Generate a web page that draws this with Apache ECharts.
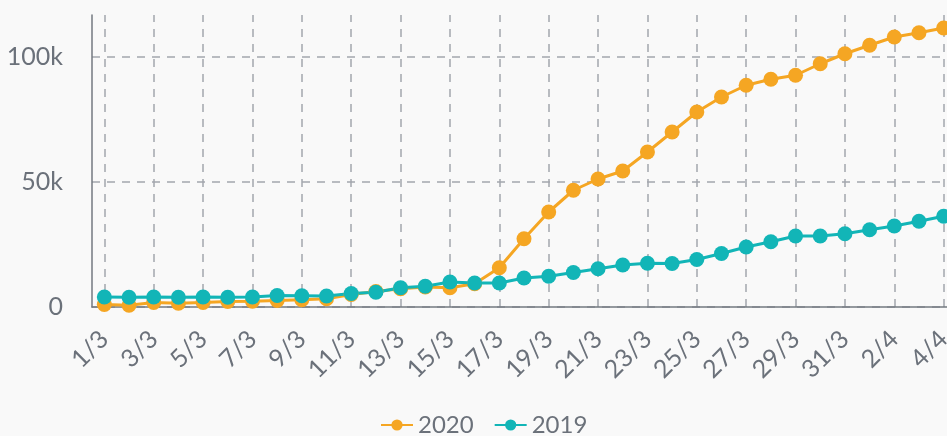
<!DOCTYPE html>
<html>
<head>
    <meta charset="utf-8">
    <title>2020 vs 2019</title>
    <script src="https://cdn.jsdelivr.net/npm/echarts@6/dist/echarts.min.js"></script>
    <style>
        html, body { margin: 0; padding: 0; background: #f9f9f9; }
    </style>
</head>
<body>
    <div id="myChart" style="width: 947px;height:436px;"></div>
    <script>
        // days from 1/3 to 4/4
        var days = ['1/3', '2/3', '3/3', '4/3', '5/3', '6/3', '7/3', '8/3', '9/3', '10/3',
            '11/3', '12/3', '13/3', '14/3', '15/3', '16/3', '17/3', '18/3', '19/3', '20/3',
            '21/3', '22/3', '23/3', '24/3', '25/3', '26/3', '27/3', '28/3', '29/3', '30/3',
            '31/3', '1/4', '2/4', '3/4', '4/4'];

        var values2020 = [1000, 700, 1800, 1500, 1800, 2200, 2300, 2600, 2900, 3300,
            5000, 6200, 7300, 8000, 7700, 9300, 15700, 27300, 38000, 46700,
            51200, 54400, 62000, 70000, 78000, 84000, 88700, 91100, 92700, 97300,
            101300, 104700, 108000, 109700, 111600];

        var values2019 = [4000, 3900, 4000, 3900, 4000, 3900, 4000, 4600, 4500, 4400,
            5400, 5900, 7700, 8300, 10000, 9600, 9600, 11600, 12300, 13800,
            15300, 16800, 17500, 17400, 19000, 21400, 24000, 26100, 28400, 28400,
            29300, 30900, 32400, 34300, 36300];

        var seriesNames = ['2020', '2019'];

        var myChart = echarts.init(document.getElementById('myChart'));

        var orange = '#f5a623';
        var teal = '#12b5b7';
        var labelColor = '#6b717a';
        var gridColor = '#a3a7ad';
        var gridDash = { color: gridColor, width: 1.5, type: [8, 7] };

        // vertical grid lines only on labelled days (every other day)
        var labelledDays = days.filter(function (d, i) { return i % 2 === 0; });

        var option = {
            backgroundColor: '#f9f9f9',
            textStyle: { fontFamily: 'Lato' },
            grid: {
                left: 92,
                top: 15,
                width: 864,
                height: 292,
                outerBoundsMode: 'none'
            },
            legend: {
                data: seriesNames,
                left: 375,
                top: 408,
                itemWidth: 32,
                itemHeight: 14,
                itemGap: 20,
                textStyle: { fontSize: 24, color: labelColor, fontFamily: 'Lato' }
            },
            xAxis: {
                type: 'category',
                data: days,
                boundaryGap: true,
                axisLine: { lineStyle: { color: '#737980', width: 1.5 } },
                axisTick: { show: false },
                axisLabel: {
                    interval: 1,
                    rotate: 45,
                    margin: 28,
                    fontSize: 25,
                    color: labelColor,
                    fontFamily: 'Lato'
                },
                splitLine: { show: false }
            },
            yAxis: {
                type: 'value',
                min: 0,
                max: 116800,
                interval: 50000,
                axisLine: { show: true, lineStyle: { color: '#737980', width: 1.5 } },
                axisTick: { show: false },
                axisLabel: {
                    margin: 29,
                    fontSize: 25,
                    color: labelColor,
                    fontFamily: 'Lato',
                    showMaxLabel: false,
                    formatter: function (v) {
                        return v === 0 ? '0' : (v / 1000) + 'k';
                    }
                },
                splitLine: {
                    showMaxLine: false,
                    lineStyle: gridDash
                }
            },
            series: [{
                // carries the vertical dashed grid lines
                name: 'grid',
                type: 'line',
                data: [],
                z: 0,
                silent: true,
                markLine: {
                    z: 0,
                    silent: true,
                    animation: false,
                    symbol: ['none', 'none'],
                    label: { show: false },
                    emphasis: { disabled: true },
                    lineStyle: gridDash,
                    data: labelledDays.map(function (d) { return { xAxis: d }; })
                }
            }, {
                name: '2020',
                type: 'line',
                data: values2020,
                symbol: 'circle',
                symbolSize: 15,
                itemStyle: { color: orange },
                lineStyle: { width: 3, color: orange }
            }, {
                name: '2019',
                type: 'line',
                data: values2019,
                symbol: 'circle',
                symbolSize: 15,
                itemStyle: { color: teal },
                lineStyle: { width: 3, color: teal }
            }]
        };
        myChart.setOption(option);
    </script>
</body>
</html>
